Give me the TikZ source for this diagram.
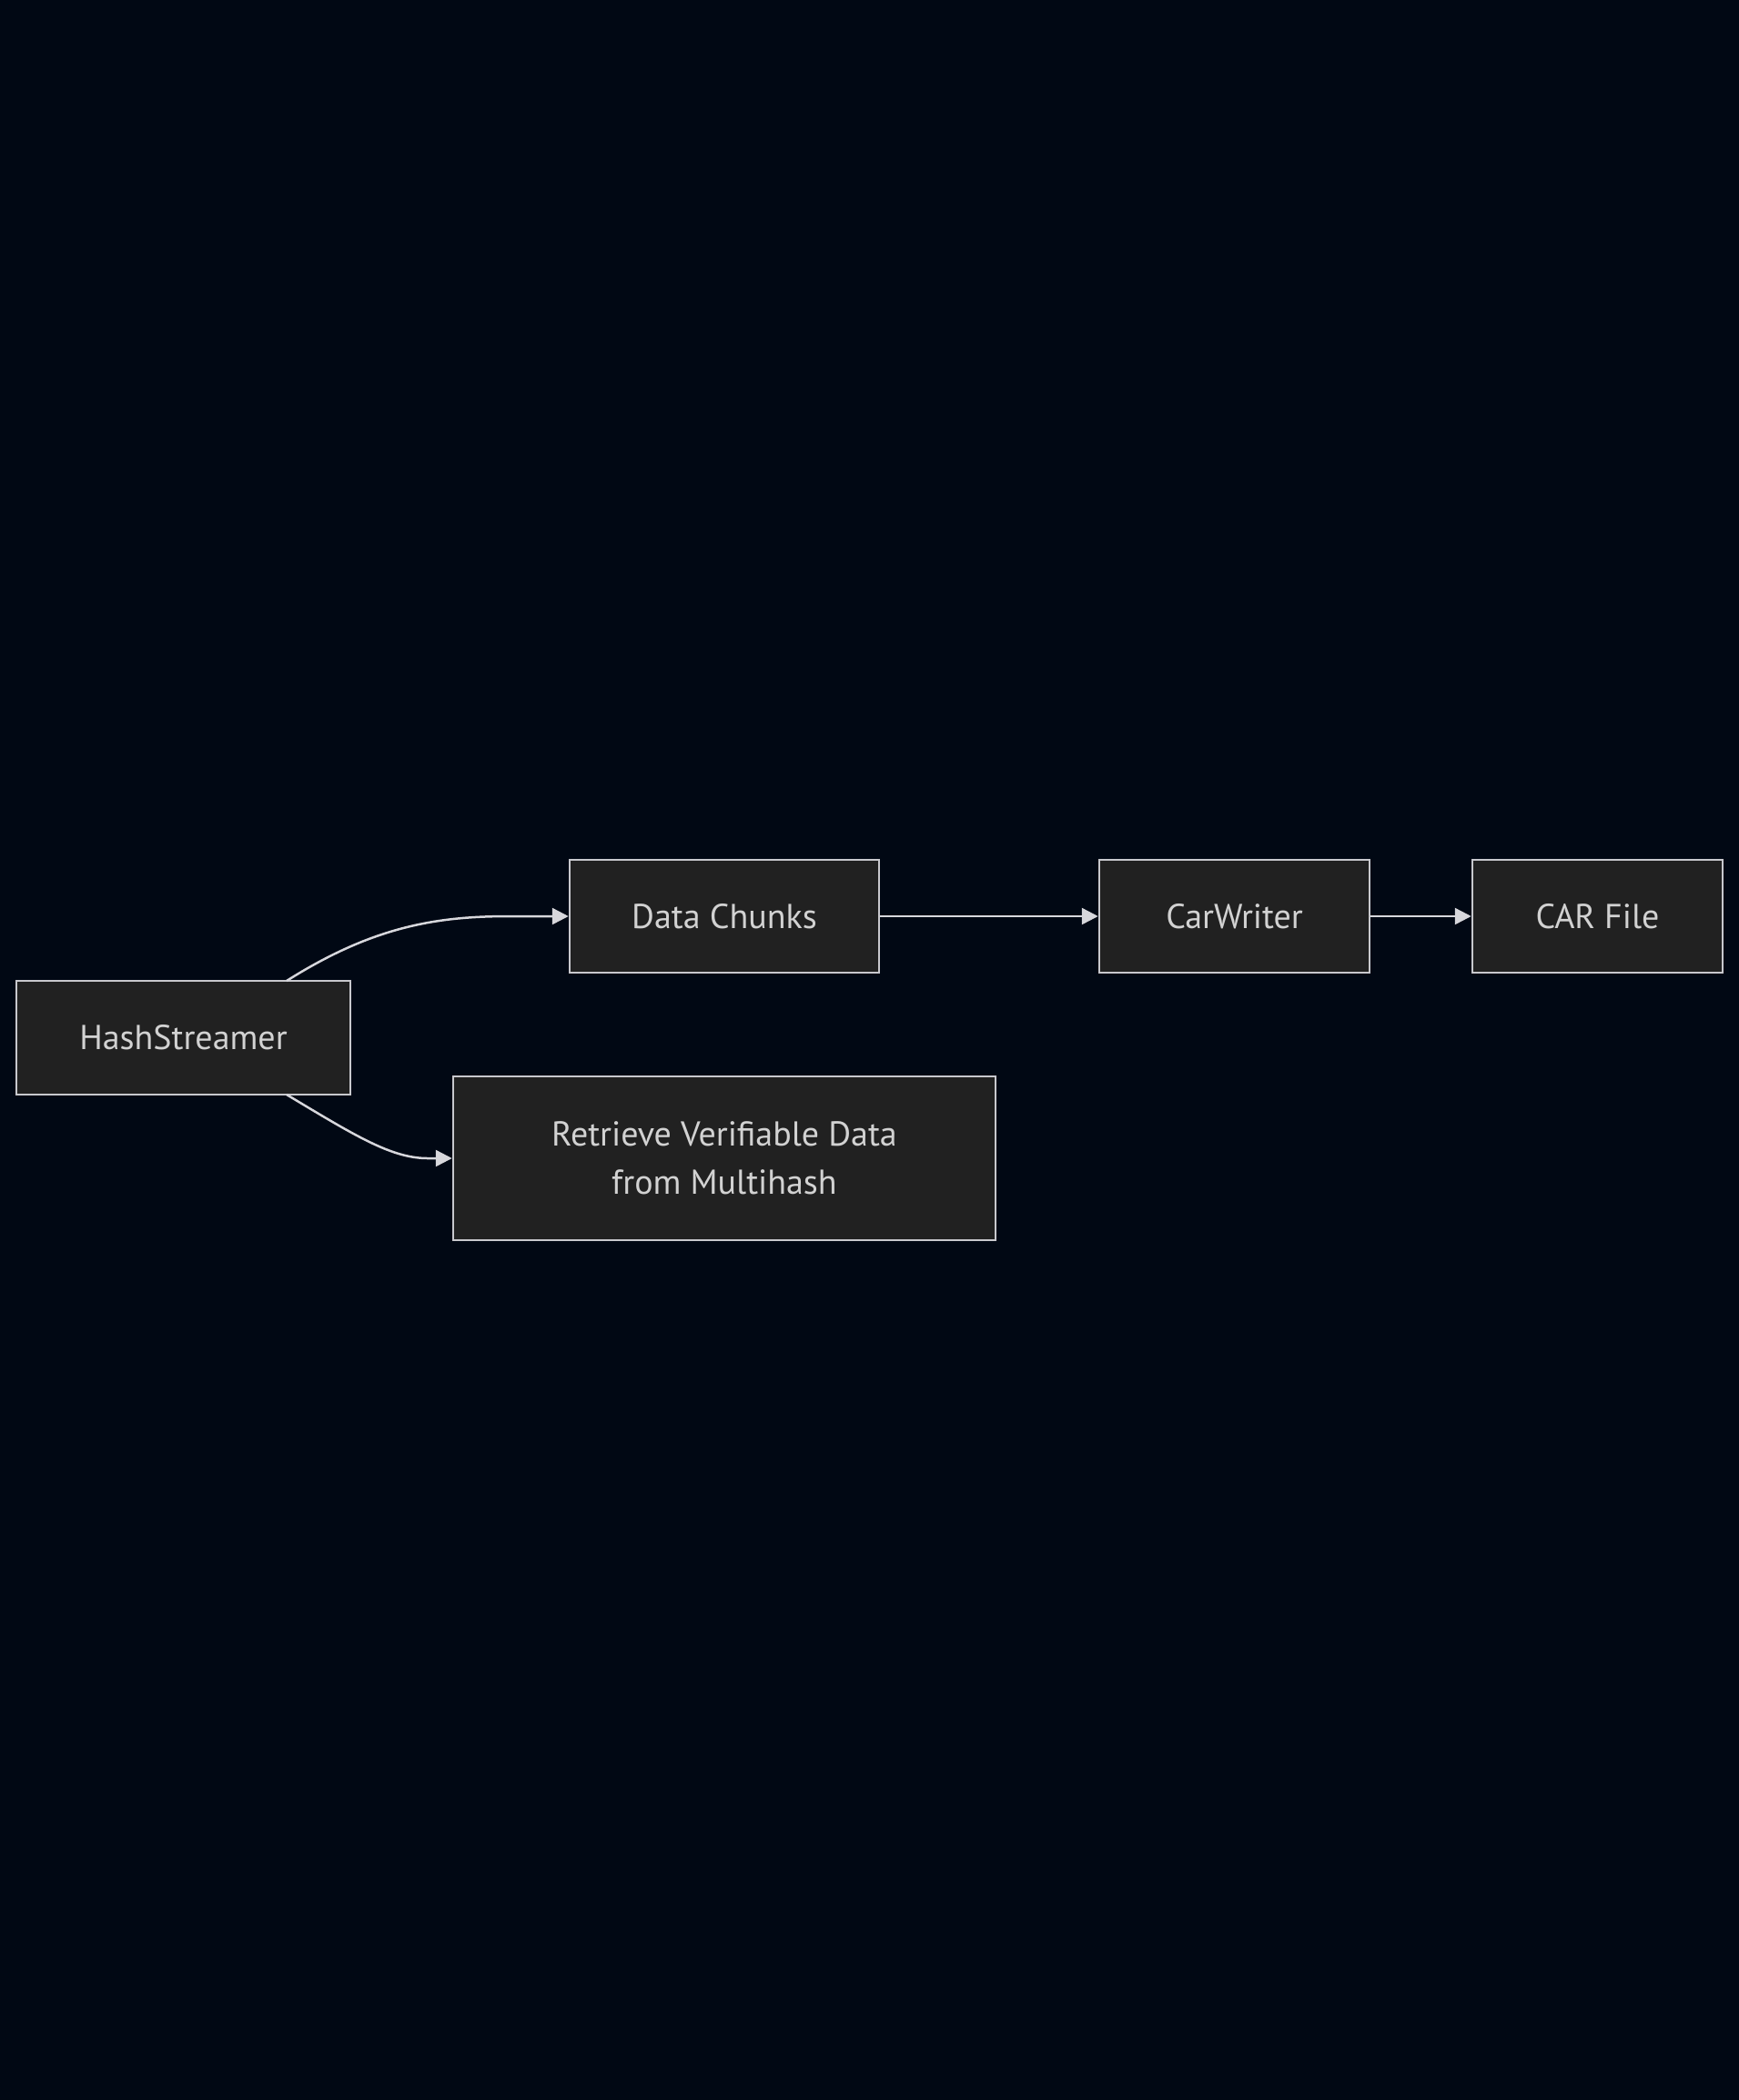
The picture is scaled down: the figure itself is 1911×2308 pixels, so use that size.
\documentclass[tikz,border=0pt]{standalone}
\usepackage{fontspec}
\setmainfont{PT Sans}
\usetikzlibrary{arrows.meta}
\definecolor{bgc}{RGB}{1,8,20}
\definecolor{boxfill}{RGB}{33,33,33}
\definecolor{boxline}{RGB}{200,200,205}
\definecolor{txt}{RGB}{210,210,210}
\definecolor{edge}{RGB}{215,215,220}
\tikzset{
  box/.style={draw=boxline, fill=boxfill, line width=2.5pt, text=txt,
    inner sep=0pt, font=\fontsize{38}{53}\selectfont, align=center},
  conn/.style={draw=edge, line width=2.5pt, -{Triangle[length=18pt,width=18pt]}},
}
\begin{document}
\begin{tikzpicture}[x=1pt,y=-1pt]
\fill[bgc] (0,0) rectangle (1911,2308);
\useasboundingbox (0,0) rectangle (1911,2308);
\node[box, minimum width=367pt, minimum height=125pt] (hs) at (201.5,1140.5) {HashStreamer};
\node[box, minimum width=340pt, minimum height=124pt] (dc) at (796,1007) {Data Chunks};
\node[box, minimum width=297pt, minimum height=124pt] (cw) at (1356.5,1007) {CarWriter};
\node[box, minimum width=275pt, minimum height=124pt] (cf) at (1755.5,1007) {CAR File};
\node[box, minimum width=596pt, minimum height=180pt] (rv) at (796,1273) {Retrieve Verifiable Data\\from Multihash};
\coordinate (t1) at (315,1078);
\coordinate (t2) at (560,1007);
\coordinate (b1) at (315,1203);
\coordinate (b2) at (470,1273);
\draw[conn] (t1) .. controls (410,1018) and (480,1007) .. (t2) -- (dc.west);
\draw[conn] (b1) .. controls (390,1248) and (430,1273) .. (b2) -- (rv.west);
\draw[conn] (dc.east) -- (cw.west);
\draw[conn] (cw.east) -- (cf.west);
\end{tikzpicture}
\end{document}
